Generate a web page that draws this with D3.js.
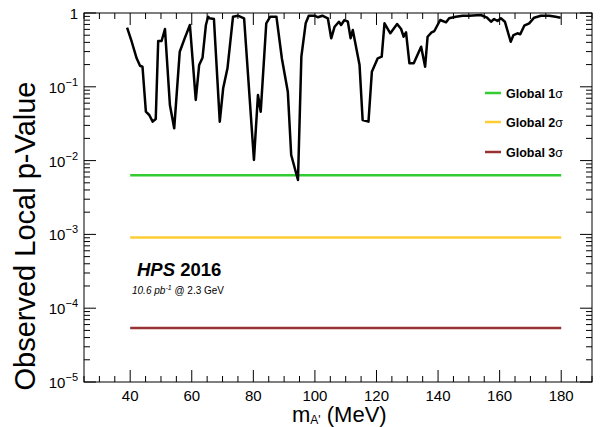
<!DOCTYPE html>
<html>
<head>
<meta charset="utf-8">
<script src="https://cdn.jsdelivr.net/npm/d3@7"></script>
<style>
  body { margin: 0; background: #fff; }
  svg { font-family: "Liberation Sans", Arial, sans-serif; }
</style>
</head>
<body>
<div id="chart"></div>
<script>
// observed local p-value scan
var masses = [39.0, 40.5, 42.1, 43.2, 44.0, 45.1, 46.2, 47.3, 48.3, 49.1, 50.2, 51.3, 52.9, 54.3,
  56.1, 57.7, 59.4, 61.3, 62.4, 63.5, 64.6, 65.3, 65.8, 67.2, 69.1, 70.2, 71.6, 73.4, 75.0, 77.0,
  80.2, 81.5, 82.4, 84.2, 85.5, 87.5, 89.3, 91.2, 92.3, 94.5, 95.6, 97.0, 98.0, 99.9, 101.0, 102.4,
  104.2, 105.3, 106.4, 107.8, 108.5, 109.6, 110.7, 111.6, 112.3, 114.5, 115.5, 117.4, 118.5, 120.4,
  121.7, 122.6, 124.5, 126.7, 128.0, 128.8, 129.6, 130.7, 132.1, 134.5, 135.8, 136.6, 137.9, 138.8,
  140.7, 142.6, 143.6, 145.8, 148.0, 150.1, 153.9, 155.9, 157.2, 158.2, 159.3, 160.4, 161.7, 163.6,
  164.5, 165.8, 166.7, 168.0, 169.6, 171.2, 173.4, 176.1, 178.2, 179.8];
var pValues = [0.632, 0.408, 0.243, 0.193, 0.187, 0.046, 0.0415, 0.0337, 0.0366, 0.417, 0.417, 0.607, 0.0567, 0.0274,
  0.299, 0.454, 0.688, 0.0663, 0.197, 0.248, 0.688, 0.891, 0.848, 0.829, 0.0337, 0.0954, 0.178, 0.891, 0.919, 0.848,
  0.0102, 0.0774, 0.046, 0.725, 0.891, 0.891, 0.238, 0.0859, 0.0119, 0.00546, 0.256, 0.725, 0.919, 0.919, 0.875, 0.919,
  0.848, 0.454, 0.652, 0.762, 0.688, 0.804, 0.762, 0.454, 0.588, 0.197, 0.0355, 0.0337, 0.160, 0.243,
  0.256, 0.725, 0.531, 0.710, 0.607, 0.477, 0.547, 0.208, 0.208, 0.349, 0.187, 0.477, 0.547, 0.570,
  0.804, 0.748, 0.848, 0.891, 0.919, 0.919, 0.939, 0.864, 0.762, 0.829, 0.779, 0.848, 0.762, 0.408,
  0.503, 0.531, 0.514, 0.673, 0.725, 0.864, 0.919, 0.919, 0.891, 0.864];

// global significance thresholds
var globalNames = ["1", "2", "3"];
var globalP = [0.00635, 0.00091, 0.000054];
var globalColors = ["#33cc33", "#ffcc33", "#993333"];
var globalRange = [40, 180];

var xTickValues = [40, 60, 80, 100, 120, 140, 160, 180];
var yTickExps = [-5, -4, -3, -2, -1, 0];

var W = 605, H = 427;
var margin = { top: 13, right: 13, bottom: 45, left: 84 };

var svg = d3.select("#chart").append("svg")
    .attr("width", W)
    .attr("height", H);

var x = d3.scaleLinear().domain([25, 190]).range([margin.left, W - margin.right]);
var y = d3.scaleLog().domain([1e-5, 1]).range([H - margin.bottom, margin.top]);

var x0 = x.range()[0], x1 = x.range()[1], y0 = y.range()[0], y1 = y.range()[1];

// ticks (ROOT style, inward on all four sides)
var xMinor = d3.range(25, 190.1, 5);
var ticks = svg.append("g").attr("stroke", "#000").attr("stroke-width", 1);
xMinor.forEach(function(v) {
  var len = (v % 20 === 0) ? 12 : 6;
  ticks.append("line").attr("x1", x(v)).attr("x2", x(v)).attr("y1", y0).attr("y2", y0 - len);
  ticks.append("line").attr("x1", x(v)).attr("x2", x(v)).attr("y1", y1).attr("y2", y1 + len);
});
yTickExps.forEach(function(e) {
  for (var k = 1; k <= 9; k++) {
    var v = k * Math.pow(10, e);
    if (v > 1.0001) break;
    var len = (k === 1) ? 12 : 6;
    ticks.append("line").attr("x1", x0).attr("x2", x0 + len).attr("y1", y(v)).attr("y2", y(v));
    ticks.append("line").attr("x1", x1).attr("x2", x1 - len).attr("y1", y(v)).attr("y2", y(v));
  }
});

// frame
svg.append("rect")
   .attr("x", x0).attr("y", y1)
   .attr("width", x1 - x0).attr("height", y0 - y1)
   .attr("fill", "none").attr("stroke", "#000").attr("stroke-width", 1);

// x tick labels
svg.append("g").selectAll("text").data(xTickValues).enter().append("text")
   .attr("x", function(d) { return x(d); })
   .attr("y", y0 + 19)
   .attr("text-anchor", "middle")
   .attr("font-size", 15)
   .text(function(d) { return d; });

// y tick labels
yTickExps.forEach(function(e) {
  var t = svg.append("text")
      .attr("x", x0 - 6)
      .attr("y", y(Math.pow(10, e)) + 6)
      .attr("text-anchor", "end")
      .attr("font-size", 15);
  if (e === 0) {
    t.text("1");
  } else {
    t.append("tspan").text("10");
    t.append("tspan").attr("dy", -7).attr("font-size", 11).text("\u2212" + (-e));
  }
});

// axis titles
var xt = svg.append("text")
   .attr("x", 292)
   .attr("y", 422)
   .attr("font-size", 22);
xt.append("tspan").text("m");
xt.append("tspan").attr("dy", 2).attr("font-size", 12).text("A'");
xt.append("tspan").attr("dy", -2).text(" (MeV)");

svg.append("text")
   .attr("transform", "translate(35," + 236 + ") rotate(-90)")
   .attr("text-anchor", "middle")
   .attr("font-size", 29)
   .text("Observed Local p-Value");

// global threshold lines
globalP.forEach(function(p, i) {
  svg.append("line")
     .attr("x1", x(globalRange[0])).attr("x2", x(globalRange[1]))
     .attr("y1", y(p)).attr("y2", y(p))
     .attr("stroke", globalColors[i]).attr("stroke-width", 2.5);
});

// observed curve
var line = d3.line()
    .x(function(d, i) { return x(masses[i]); })
    .y(function(d) { return y(d); });

svg.append("path")
   .datum(pValues)
   .attr("fill", "none")
   .attr("stroke", "#000")
   .attr("stroke-width", 2.5)
   .attr("stroke-linejoin", "round")
   .attr("d", line);

// legend
var legY = [93, 122, 152];
globalNames.forEach(function(n, i) {
  svg.append("line")
     .attr("x1", 485).attr("x2", 501)
     .attr("y1", legY[i]).attr("y2", legY[i])
     .attr("stroke", globalColors[i]).attr("stroke-width", 2.5);
  var t = svg.append("text")
     .attr("x", 506).attr("y", legY[i] + 4.5)
     .attr("font-size", 12.5).attr("font-weight", "bold");
  t.append("tspan").text("Global " + n);
  t.append("tspan").attr("font-weight", "normal").text("\u03c3");
});

// experiment label
var lab = svg.append("text").attr("x", 137).attr("y", 276).attr("font-size", 18.5).attr("font-weight", "bold");
lab.append("tspan").attr("font-style", "italic").text("HPS");
lab.append("tspan").text(" 2016");

var lum = svg.append("text").attr("x", 132).attr("y", 294).attr("font-size", 10);
lum.append("tspan").attr("font-style", "italic").text("10.6 pb");
lum.append("tspan").attr("font-style", "italic").attr("dy", -4).attr("font-size", 7).text("-1");
lum.append("tspan").attr("dy", 4).text(" @ 2.3 GeV");
</script>
</body>
</html>
